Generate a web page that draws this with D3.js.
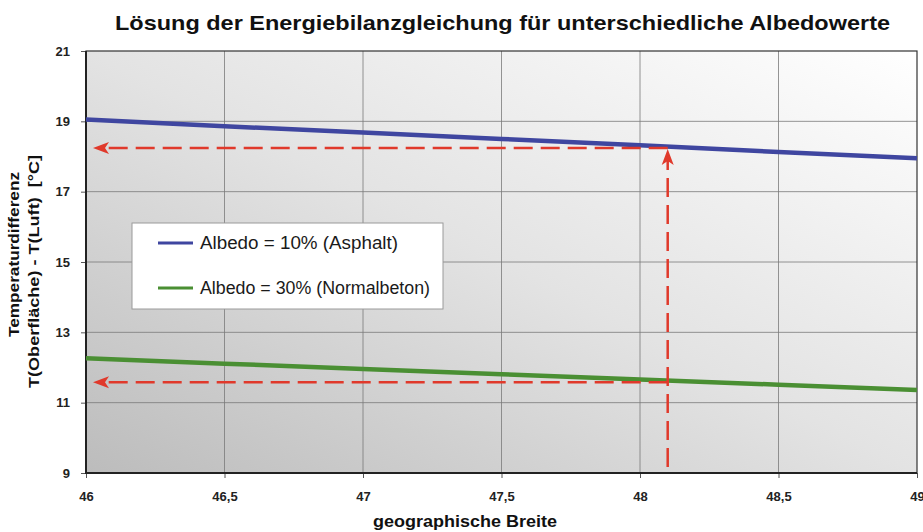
<!DOCTYPE html>
<html><head><meta charset="utf-8">
<script src="https://cdn.jsdelivr.net/npm/d3@7"></script>
<style>body{margin:0;background:#fff}svg{display:block}</style>
</head><body>
<svg id="c" width="923" height="532"></svg>
<script>
const title = "Lösung der Energiebilanzgleichung für unterschiedliche Albedowerte";
const xLabel = "geographische Breite";
const yLabel1 = "Temperaturdifferenz";
const yLabel2 = "T(Oberfläche) - T(Luft)  [°C]";
const latitudes = [46, 46.5, 47, 47.5, 48, 48.5, 49];
const asphalt = [19.05, 18.86, 18.68, 18.50, 18.32, 18.13, 17.95];
const beton = [12.26, 12.11, 11.96, 11.81, 11.66, 11.51, 11.36];
const seriesNames = ["Albedo = 10% (Asphalt)", "Albedo = 30% (Normalbeton)"];
const xTicks = [46, 46.5, 47, 47.5, 48, 48.5, 49];
const yTicks = [9, 11, 13, 15, 17, 19, 21];
const readX = 48.1;
const readAsphalt = 18.24;
const readBeton = 11.58;
const readBottom = 9.17;

const svg = d3.select("#c");
const L = 86, R = 917, T = 51, B = 473;
const x = d3.scaleLinear().domain([46, 49]).range([L, R]);
const y = d3.scaleLinear().domain([9, 21]).range([B, T]);
const font = "'Liberation Sans', Arial, sans-serif";
const fmt = d => String(d).replace(".", ",");

const defs = svg.append("defs");
const g = defs.append("linearGradient").attr("id", "bg")
  .attr("x1", 0).attr("y1", 1).attr("x2", 1).attr("y2", 0);
g.append("stop").attr("offset", "0%").attr("stop-color", "#bcbcbc");
g.append("stop").attr("offset", "50%").attr("stop-color", "#e3e3e3");
g.append("stop").attr("offset", "100%").attr("stop-color", "#ffffff");

svg.append("rect").attr("x", L).attr("y", T).attr("width", R - L).attr("height", B - T)
  .attr("fill", "url(#bg)");

// grid
svg.append("g").selectAll("line").data(xTicks.slice(1, -1)).join("line")
  .attr("x1", d => x(d)).attr("x2", d => x(d)).attr("y1", T).attr("y2", B)
  .attr("stroke", "#7a7a7a").attr("stroke-width", 0.8);
svg.append("g").selectAll("line").data(yTicks.slice(1, -1)).join("line")
  .attr("y1", d => y(d)).attr("y2", d => y(d)).attr("x1", L).attr("x2", R)
  .attr("stroke", "#7a7a7a").attr("stroke-width", 0.8);

// axes
const xAxis = svg.append("g").attr("transform", `translate(0,${B})`)
  .call(d3.axisBottom(x).tickValues(xTicks).tickFormat(fmt).tickSize(5).tickPadding(14));
const yAxis = svg.append("g").attr("transform", `translate(${L},0)`)
  .call(d3.axisLeft(y).tickValues(yTicks).tickSize(5).tickPadding(11));
[xAxis, yAxis].forEach(a => {
  a.select(".domain").remove();
  a.selectAll(".tick line").attr("stroke", "#555");
  a.selectAll(".tick text").attr("font-family", font).attr("font-size", 13)
    .attr("font-weight", "bold").attr("fill", "#222");
});

// frame
svg.append("rect").attr("x", L).attr("y", T).attr("width", R - L).attr("height", B - T)
  .attr("fill", "none").attr("stroke", "#333").attr("stroke-width", 1.2);
svg.append("line").attr("x1", L).attr("x2", L).attr("y1", T).attr("y2", B + 1)
  .attr("stroke", "#222").attr("stroke-width", 2);
svg.append("line").attr("x1", L).attr("x2", R).attr("y1", B).attr("y2", B)
  .attr("stroke", "#222").attr("stroke-width", 2);

// lines
const line = d3.line().x((d, i) => x(latitudes[i])).y(d => y(d));
const colors = ["#3f46a0", "#4a8f33"];
[asphalt, beton].forEach((s, i) => {
  svg.append("path").attr("d", line(s)).attr("fill", "none")
    .attr("stroke", colors[i]).attr("stroke-width", 4.5);
});

// red dashed read-off arrows
const red = "#e0392b";
const dash = "19,8";
const ra = svg.append("g");
ra.append("line").attr("x1", x(readX)).attr("x2", x(readX))
  .attr("y1", y(readBottom)).attr("y2", y(readAsphalt) + 6)
  .attr("stroke", red).attr("stroke-width", 2.5).attr("stroke-dasharray", dash);
[readAsphalt, readBeton].forEach(v => {
  ra.append("line").attr("x1", x(readX)).attr("x2", x(46) + 14)
    .attr("y1", y(v)).attr("y2", y(v))
    .attr("stroke", red).attr("stroke-width", 2.5).attr("stroke-dasharray", dash);
  const tx = x(46) + 7, ty = y(v);
  ra.append("path")
    .attr("d", `M${tx},${ty} L${tx + 16},${ty - 6} L${tx + 12},${ty} L${tx + 16},${ty + 6} Z`)
    .attr("fill", red);
});
{
  const tx = x(readX), ty = y(readAsphalt) + 1;
  ra.append("path")
    .attr("d", `M${tx},${ty} L${tx - 6},${ty + 16} L${tx},${ty + 12} L${tx + 6},${ty + 16} Z`)
    .attr("fill", red);
}

// legend
const lg = svg.append("g");
lg.append("rect").attr("x", 132).attr("y", 223).attr("width", 311).attr("height", 86)
  .attr("fill", "#fff").attr("stroke", "#9a9a9a").attr("stroke-width", 1);
const legendW = [198, 230];
seriesNames.forEach((n, i) => {
  const yy = 243 + i * 45;
  lg.append("line").attr("x1", 158).attr("x2", 193).attr("y1", yy).attr("y2", yy)
    .attr("stroke", colors[i]).attr("stroke-width", 3);
  lg.append("text").attr("x", 200).attr("y", yy + 6).text(n)
    .attr("textLength", legendW[i]).attr("lengthAdjust", "spacingAndGlyphs")
    .attr("font-family", font).attr("font-size", 17.5).attr("fill", "#1a1a1a");
});

// titles
svg.append("text").attr("x", 115).attr("y", 30)
  .attr("textLength", 775).attr("lengthAdjust", "spacingAndGlyphs")
  .attr("font-family", font).attr("font-weight", "bold").attr("font-size", 21)
  .attr("fill", "#111").text(title);
svg.append("text").attr("x", 373).attr("y", 527)
  .attr("textLength", 184).attr("lengthAdjust", "spacingAndGlyphs")
  .attr("font-family", font).attr("font-weight", "bold").attr("font-size", 17)
  .attr("fill", "#111").text(xLabel);
svg.append("text").attr("transform", "translate(19,337) rotate(-90)")
  .attr("textLength", 165).attr("lengthAdjust", "spacingAndGlyphs")
  .attr("font-family", font).attr("font-weight", "bold").attr("font-size", 15.5)
  .attr("fill", "#111").text(yLabel1);
svg.append("text").attr("transform", "translate(39,388) rotate(-90)")
  .style("white-space", "pre")
  .attr("textLength", 233).attr("lengthAdjust", "spacingAndGlyphs")
  .attr("font-family", font).attr("font-weight", "bold").attr("font-size", 15.5)
  .attr("fill", "#111").text(yLabel2);
</script>
</body></html>
